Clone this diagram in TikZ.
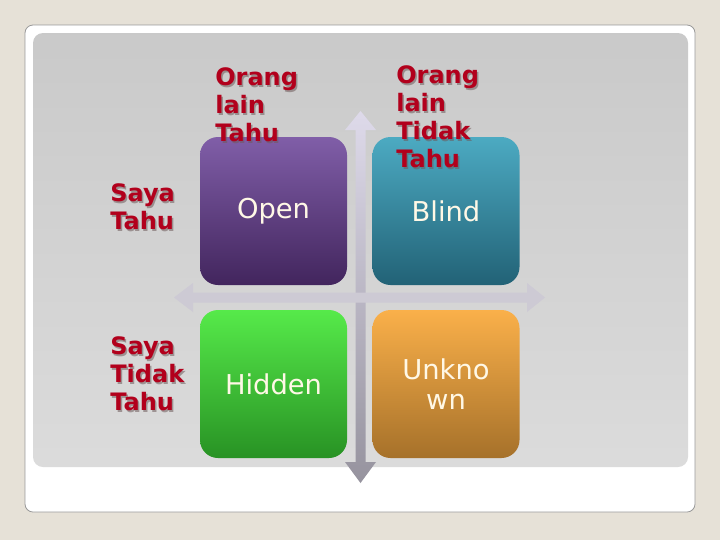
\documentclass[tikz,border=0pt]{standalone}
\usepackage{fontspec}
\setmainfont{DejaVu Sans}
\definecolor{bgc}{HTML}{E6E1D7}
\definecolor{redlbl}{HTML}{B2001C}
\definecolor{shadowc}{HTML}{6E5A5A}
\definecolor{boxtxt}{HTML}{FFF8E6}
\definecolor{vtop}{RGB}{222,218,234}
\definecolor{vbot}{RGB}{150,147,158}
\definecolor{harr}{RGB}{205,202,212}
\definecolor{opentop}{RGB}{128,94,168}
\definecolor{openbot}{RGB}{66,37,93}
\definecolor{blindtop}{RGB}{76,170,194}
\definecolor{blindbot}{RGB}{34,98,118}
\definecolor{hidtop}{RGB}{86,234,74}
\definecolor{hidbot}{RGB}{40,146,36}
\definecolor{unktop}{RGB}{250,176,74}
\definecolor{unkbot}{RGB}{166,113,42}
\tikzset{
  quad/.style={rounded corners=13.5pt, minimum width=110.25pt, minimum height=111pt, inner sep=0pt,
     text=boxtxt, font=\fontsize{20.5}{23}\selectfont, align=center},
  lbl/.style={anchor=west, inner sep=0pt, align=left, text=redlbl,
     font=\bfseries\fontsize{18}{21}\selectfont},
  lblsh/.style={lbl, text=shadowc, opacity=0.55},
}
\begin{document}
\begin{tikzpicture}[x=0.75pt,y=-0.75pt]
\useasboundingbox (0,0) rectangle (720,540);
\fill[bgc] (0,0) rectangle (720,540);
% card
\draw[fill=white, draw=black!40, line width=0.6pt, rounded corners=6pt] (25,25) rectangle (695,512);
\shade[top color=black!21, bottom color=black!14, rounded corners=7.5pt] (33,33) rectangle (688,467);
% arrows
\shade[top color=vtop, bottom color=vbot]
  (360.5,111) -- (376,130) -- (365.5,130) -- (365.5,462) -- (376,462) -- (360.5,483)
  -- (345,462) -- (355.5,462) -- (355.5,130) -- (345,130) -- cycle;
\fill[harr]
  (174,297.5) -- (193,283) -- (193,292.5) -- (527,292.5) -- (527,283) -- (545,297.5)
  -- (527,312) -- (527,302.5) -- (193,302.5) -- (193,312) -- cycle;
% quadrants
\node[quad, top color=opentop, bottom color=openbot] (open) at (273.5,211) {Open};
\node[quad, top color=blindtop, bottom color=blindbot] (blind) at (446,211) {Blind};
\node[quad, top color=hidtop, bottom color=hidbot] (hidden) at (273.5,384) {Hidden};
\node[quad, top color=unktop, bottom color=unkbot] (unknown) at (446,384) {Unkno\\wn};
% labels
\node[lblsh] at (216.5,106.5) {Orang\\lain\\Tahu};
\node[lbl] (olt) at (215,105) {Orang\\lain\\Tahu};
\node[lblsh] at (397.5,118.5) {Orang\\lain\\Tidak\\Tahu};
\node[lbl] (oltt) at (396,117) {Orang\\lain\\Tidak\\Tahu};
\node[lblsh] at (111.5,208.5) {Saya\\Tahu};
\node[lbl] (st) at (110,207) {Saya\\Tahu};
\node[lblsh] at (111.5,375.5) {Saya\\Tidak\\Tahu};
\node[lbl] (stt) at (110,374) {Saya\\Tidak\\Tahu};
\end{tikzpicture}
\end{document}
